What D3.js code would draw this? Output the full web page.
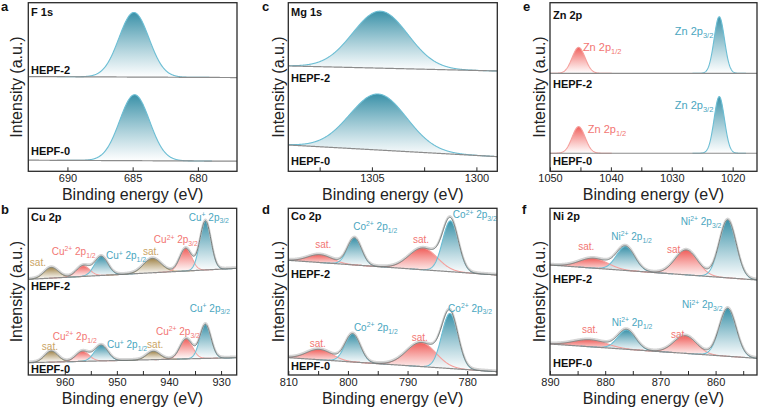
<!DOCTYPE html>
<html><head><meta charset="utf-8">
<script src="https://cdn.jsdelivr.net/npm/d3@7/dist/d3.min.js"></script>
<style>
body{margin:0;background:#fff}
svg{display:block}
text{font-family:Arial,"Liberation Sans",Helvetica,sans-serif}
</style></head>
<body><svg id="chart" width="760" height="409"></svg>
<script>
// ================= DATA (binding energy in eV, intensity in a.u. 0-100 per panel) =================
// a: F 1s
const f1sDomain = [693, 677];
const f1sTicks = [690, 685, 680];
const f1sMinor = [];
const f1sBaseline = [{sample:"HEPF-2", left:56.2, right:55.6}, {sample:"HEPF-0", left:6.6, right:6.0}];
const f1sPeaks = [
  {sample:"HEPF-2", species:"F", center:684.9, height:38.3, fwhm:2.7},
  {sample:"HEPF-0", species:"F", center:684.85, height:39.1, fwhm:2.7}];
const f1sLabels = [];

// c: Mg 1s
const mg1sDomain = [1309, 1299];
const mg1sTicks = [1305, 1300];
const mg1sMinor = [1307.5, 1302.5];
const mg1sBaseline = [{sample:"HEPF-2", left:62.5, right:59.5}, {sample:"HEPF-0", left:15.6, right:8.7}];
const mg1sPeaks = [
  {sample:"HEPF-2", species:"Mg", center:1304.6, height:33.8, fwhm:3.1},
  {sample:"HEPF-0", species:"Mg", center:1304.7, height:33.2, fwhm:3.2}];
const mg1sLabels = [];

// e: Zn 2p
const zn2pDomain = [1050, 1016];
const zn2pTicks = [1050, 1040, 1030, 1020];
const zn2pMinor = [1045, 1035, 1025];
const zn2pBaseline = [{sample:"HEPF-2", left:58.1, right:58.1}, {sample:"HEPF-0", left:10.7, right:10.7}];
const zn2pPeaks = [
  {sample:"HEPF-2", species:"Zn 2p1/2", center:1045.3, height:15.4, fwhm:2.5},
  {sample:"HEPF-2", species:"Zn 2p3/2", center:1022.2, height:33.6, fwhm:2.0},
  {sample:"HEPF-0", species:"Zn 2p1/2", center:1045.3, height:15.8, fwhm:2.5},
  {sample:"HEPF-0", species:"Zn 2p3/2", center:1022.2, height:33.6, fwhm:2.0}];
const zn2pLabels = [
  {species:"Zn 2p3/2", text:"Zn 2p_{3/2}", be:1029.5, y:80.8},
  {species:"Zn 2p1/2", text:"Zn 2p_{1/2}", be:1044.6, y:71.4},
  {species:"Zn 2p3/2", text:"Zn 2p_{3/2}", be:1029.5, y:37.0},
  {species:"Zn 2p1/2", text:"Zn 2p_{1/2}", be:1043.8, y:22.7}];

// b: Cu 2p
const cu2pDomain = [967, 927];
const cu2pTicks = [960, 950, 940, 930];
const cu2pMinor = [955, 945, 935];
const cu2pBaseline = [{sample:"HEPF-2", left:57.4, right:64.0}, {sample:"HEPF-0", left:7.4, right:10.4}];
const cu2pPeaks = [
  {sample:"HEPF-2", species:"Cu sat.", center:962.6, height:6.4, fwhm:3.2},
  {sample:"HEPF-2", species:"Cu2+", center:956.5, height:6.4, fwhm:3.0},
  {sample:"HEPF-2", species:"Cu+", center:953.0, height:11.4, fwhm:3.0},
  {sample:"HEPF-2", species:"Cu sat.", center:943.2, height:8.6, fwhm:4.0},
  {sample:"HEPF-2", species:"Cu2+", center:936.8, height:13.6, fwhm:2.7},
  {sample:"HEPF-2", species:"Cu+", center:933.0, height:29.4, fwhm:2.5},
  {sample:"HEPF-0", species:"Cu sat.", center:962.6, height:6.6, fwhm:3.0},
  {sample:"HEPF-0", species:"Cu2+", center:956.6, height:6.0, fwhm:3.0},
  {sample:"HEPF-0", species:"Cu+", center:953.0, height:9.4, fwhm:3.0},
  {sample:"HEPF-0", species:"Cu sat.", center:943.0, height:5.0, fwhm:3.0},
  {sample:"HEPF-0", species:"Cu2+", center:936.7, height:12.0, fwhm:2.8},
  {sample:"HEPF-0", species:"Cu+", center:933.0, height:20.4, fwhm:2.5}];
const cu2pLabels = [
  {species:"Cu sat.", text:"sat.", be:966.7, y:65.3},
  {species:"Cu2+", text:"Cu^{2+} 2p_{1/2}", be:962.5, y:71.9},
  {species:"Cu+", text:"Cu^{+} 2p_{1/2}", be:952.1, y:69.3},
  {species:"Cu sat.", text:"sat.", be:945.0, y:71.9},
  {species:"Cu2+", text:"Cu^{2+} 2p_{3/2}", be:942.9, y:78.9},
  {species:"Cu+", text:"Cu^{+} 2p_{3/2}", be:936.2, y:92.5},
  {species:"Cu sat.", text:"sat.", be:964.4, y:14.9},
  {species:"Cu2+", text:"Cu^{2+} 2p_{1/2}", be:962.3, y:20.9},
  {species:"Cu+", text:"Cu^{+} 2p_{1/2}", be:951.9, y:15.9},
  {species:"Cu sat.", text:"sat.", be:944.2, y:15.9},
  {species:"Cu2+", text:"Cu^{2+} 2p_{3/2}", be:942.5, y:23.9},
  {species:"Cu+", text:"Cu^{+} 2p_{3/2}", be:936.0, y:37.9}];

// d: Co 2p
const co2pDomain = [810, 775];
const co2pTicks = [810, 800, 790, 780];
const co2pMinor = [805, 795, 785];
const co2pBaseline = [{sample:"HEPF-2", left:68.8, right:60.0}, {sample:"HEPF-0", left:10.4, right:2.0}];
const co2pPeaks = [
  {sample:"HEPF-2", species:"Co sat.", center:804.7, height:4.7, fwhm:4.8},
  {sample:"HEPF-2", species:"Co2+", center:798.9, height:16.2, fwhm:2.8},
  {sample:"HEPF-2", species:"Co sat.", center:787.4, height:13.0, fwhm:5.6},
  {sample:"HEPF-2", species:"Co2+", center:782.8, height:30.5, fwhm:3.1},
  {sample:"HEPF-0", species:"Co sat.", center:804.8, height:6.2, fwhm:5.0},
  {sample:"HEPF-0", species:"Co2+", center:799.2, height:16.8, fwhm:3.0},
  {sample:"HEPF-0", species:"Co sat.", center:787.7, height:14.4, fwhm:5.8},
  {sample:"HEPF-0", species:"Co2+", center:782.9, height:33.0, fwhm:3.2}];
const co2pLabels = [
  {species:"Co sat.", text:"sat.", be:805.5, y:75.9},
  {species:"Co2+", text:"Co^{2+} 2p_{1/2}", be:799.1, y:86.9},
  {species:"Co sat.", text:"sat.", be:789.1, y:79.3},
  {species:"Co2+", text:"Co^{2+} 2p_{3/2}", be:782.4, y:93.9},
  {species:"Co sat.", text:"sat.", be:806.4, y:16.5},
  {species:"Co2+", text:"Co^{2+} 2p_{1/2}", be:799.0, y:26.3},
  {species:"Co sat.", text:"sat.", be:789.3, y:20.5},
  {species:"Co2+", text:"Co^{2+} 2p_{3/2}", be:783.2, y:37.9}];

// f: Ni 2p
const ni2pDomain = [890, 852.5];
const ni2pTicks = [890, 880, 870, 860];
const ni2pMinor = [885, 875, 865, 855];
const ni2pBaseline = [{sample:"HEPF-2", left:66.0, right:57.0}, {sample:"HEPF-0", left:18.6, right:10.0}];
const ni2pPeaks = [
  {sample:"HEPF-2", species:"Ni sat.", center:882.1, height:5.9, fwhm:6.0},
  {sample:"HEPF-2", species:"Ni2+", center:876.3, height:14.3, fwhm:3.9},
  {sample:"HEPF-2", species:"Ni sat.", center:865.3, height:14.9, fwhm:4.8},
  {sample:"HEPF-2", species:"Ni2+", center:857.8, height:34.8, fwhm:3.6},
  {sample:"HEPF-0", species:"Ni sat.", center:882.7, height:4.2, fwhm:7.0},
  {sample:"HEPF-0", species:"Ni2+", center:876.1, height:11.6, fwhm:3.8},
  {sample:"HEPF-0", species:"Ni sat.", center:865.5, height:10.6, fwhm:4.8},
  {sample:"HEPF-0", species:"Ni2+", center:857.8, height:28.8, fwhm:3.6}];
const ni2pLabels = [
  {species:"Ni sat.", text:"sat.", be:884.9, y:74.9},
  {species:"Ni2+", text:"Ni^{2+} 2p_{1/2}", be:878.9, y:80.9},
  {species:"Ni sat.", text:"sat.", be:868.8, y:72.9},
  {species:"Ni2+", text:"Ni^{2+} 2p_{3/2}", be:866.3, y:89.9},
  {species:"Ni sat.", text:"sat.", be:884.2, y:25.3},
  {species:"Ni2+", text:"Ni^{2+} 2p_{1/2}", be:878.8, y:29.3},
  {species:"Ni sat.", text:"sat.", be:868.1, y:21.9},
  {species:"Ni2+", text:"Ni^{2+} 2p_{3/2}", be:866.1, y:39.9}];

const samples = ["HEPF-2", "HEPF-0"];
const speciesList = ["F","Mg","Zn 2p3/2","Zn 2p1/2","Cu+","Cu2+","Cu sat.","Co2+","Co sat.","Ni2+","Ni sat."];
const speciesHue = ["teal","teal","teal","pink","teal","pink","brown","teal","pink","teal","pink"];

// ================= STYLE / LAYOUT =================
const hues = {
  teal:{top:"#3a91a8", line:"#6cbed4", text:"#4aa6c0"},
  pink:{top:"#f05e5a", line:"#f5a09d", text:"#f27673"},
  brown:{top:"#a08449", line:"#c6b080", text:"#caa465"}
};
const hueOf = d3.scaleOrdinal().domain(speciesList).range(speciesHue);

const panels = [
  {letter:"a", core:"F 1s", domain:f1sDomain, ticks:f1sTicks, minor:f1sMinor, base:f1sBaseline, peaks:f1sPeaks, labels:f1sLabels,
   x0:28.3, x1:237, y0:2.7, y1:171.3, env:false, letterPos:[1,11], corePos:[31,16], s2:[31,73.5], s0:[31,155], yt:16, lfs:11},
  {letter:"c", core:"Mg 1s", domain:mg1sDomain, ticks:mg1sTicks, minor:mg1sMinor, base:mg1sBaseline, peaks:mg1sPeaks, labels:mg1sLabels,
   x0:288.3, x1:497.3, y0:2.7, y1:171.3, env:false, letterPos:[262,11], corePos:[291,16], s2:[291,82], s0:[291,165], yt:277.5, lfs:11},
  {letter:"e", core:"Zn 2p", domain:zn2pDomain, ticks:zn2pTicks, minor:zn2pMinor, base:zn2pBaseline, peaks:zn2pPeaks, labels:zn2pLabels,
   x0:550, x1:757, y0:2.7, y1:171.3, env:false, letterPos:[523,11], corePos:[553,19], s2:[553,87.5], s0:[553,165], yt:539, lfs:11},
  {letter:"b", core:"Cu 2p", domain:cu2pDomain, ticks:cu2pTicks, minor:cu2pMinor, base:cu2pBaseline, peaks:cu2pPeaks, labels:cu2pLabels,
   x0:28.3, x1:236.7, y0:208.3, y1:375, env:true, letterPos:[1,214], corePos:[31,221], s2:[31,290], s0:[31,373], yt:16, lfs:10},
  {letter:"d", core:"Co 2p", domain:co2pDomain, ticks:co2pTicks, minor:co2pMinor, base:co2pBaseline, peaks:co2pPeaks, labels:co2pLabels,
   x0:288.3, x1:497, y0:208.3, y1:375, env:true, letterPos:[262,214], corePos:[291,219.5], s2:[291,277.5], s0:[291,370], yt:277.5, lfs:10},
  {letter:"f", core:"Ni 2p", domain:ni2pDomain, ticks:ni2pTicks, minor:ni2pMinor, base:ni2pBaseline, peaks:ni2pPeaks, labels:ni2pLabels,
   x0:550, x1:757, y0:208.3, y1:375, env:true, letterPos:[522,214], corePos:[553,219.5], s2:[553,283], s0:[553,367], yt:539, lfs:10}
];

const svg = d3.select("#chart");
const defs = svg.append("defs");
Object.entries(hues).forEach(([k, h]) => {
  const g = defs.append("linearGradient").attr("id", "grad-" + k)
    .attr("x1", 0).attr("y1", 0).attr("x2", 0).attr("y2", 1);
  g.append("stop").attr("offset", "0%").attr("stop-color", h.top).attr("stop-opacity", 1);
  g.append("stop").attr("offset", "100%").attr("stop-color", "#ffffff").attr("stop-opacity", 0.85);
});

const gauss = (p, x) => p.height * Math.exp(-4 * Math.LN2 * (x - p.center) * (x - p.center) / (p.fwhm * p.fwhm));

function richText(sel, str, fs) {
  const re = /(\^\{[^}]*\}|_\{[^}]*\})/g;
  const parts = str.split(re).filter(s => s.length);
  let shift = 0;
  parts.forEach(s => {
    if (s.startsWith("^{")) {
      sel.append("tspan").attr("dy", -0.38 * fs - shift).attr("font-size", fs * 0.68).text(s.slice(2, -1));
      shift = -0.38 * fs;
    } else if (s.startsWith("_{")) {
      sel.append("tspan").attr("dy", 0.25 * fs - shift).attr("font-size", fs * 0.68).text(s.slice(2, -1));
      shift = 0.25 * fs;
    } else {
      sel.append("tspan").attr("dy", -shift).text(s);
      shift = 0;
    }
  });
}

panels.forEach(P => {
  const x = d3.scaleLinear().domain(P.domain).range([P.x0, P.x1]);
  const y = d3.scaleLinear().domain([0, 100]).range([P.y1, P.y0]);
  const g = svg.append("g");
  const clipId = "clip-" + P.letter;
  defs.append("clipPath").attr("id", clipId).append("rect")
    .attr("x", P.x0).attr("y", P.y0).attr("width", P.x1 - P.x0).attr("height", P.y1 - P.y0);
  const plot = g.append("g").attr("clip-path", `url(#${clipId})`);

  const xs = d3.range(0, 601).map(i => P.domain[0] + (P.domain[1] - P.domain[0]) * i / 600);

  samples.forEach(s => {
    const b = P.base.find(d => d.sample === s);
    const baseAt = xv => b.left + (b.right - b.left) * (xv - P.domain[0]) / (P.domain[1] - P.domain[0]);
    const peaks = P.peaks.filter(p => p.sample === s);
    peaks.forEach(p => {
      const pts = xs.filter(v => Math.abs(v - p.center) < 1.9 * p.fwhm);
      const area = d3.area().x(v => x(v)).y0(v => y(baseAt(v))).y1(v => y(baseAt(v) + gauss(p, v)));
      plot.append("path").datum(pts).attr("d", area)
        .attr("fill", `url(#grad-${hueOf(p.species)})`).attr("stroke", "none");
    });
    peaks.forEach(p => {
      const pts = xs.filter(v => Math.abs(v - p.center) < 2.2 * p.fwhm);
      const line = d3.line().x(v => x(v)).y(v => y(baseAt(v) + gauss(p, v)));
      plot.append("path").datum(pts).attr("d", line)
        .attr("fill", "none").attr("stroke", hues[hueOf(p.species)].line).attr("stroke-width", 1.1);
    });
    plot.append("path").datum(xs).attr("d", d3.line().x(v => x(v)).y(v => y(baseAt(v))))
      .attr("fill", "none").attr("stroke", "#8c8c8c").attr("stroke-width", 1.2);
    if (P.env) {
      const env = d3.line().x(v => x(v)).y(v => y(baseAt(v) + d3.sum(peaks, p => gauss(p, v))));
      plot.append("path").datum(xs).attr("d", env)
        .attr("fill", "none").attr("stroke", "#d6d6d6").attr("stroke-width", 2)
        .attr("transform", "translate(0,-1.2)");
      plot.append("path").datum(xs).attr("d", env)
        .attr("fill", "none").attr("stroke", "#66706f").attr("stroke-width", 0.9);
    }
  });

  P.labels.forEach(l => {
    const t = g.append("text").attr("x", x(l.be)).attr("y", y(l.y))
      .attr("font-size", P.lfs).attr("fill", hues[hueOf(l.species)].text);
    richText(t, l.text, P.lfs);
  });

  g.append("rect").attr("x", P.x0).attr("y", P.y0).attr("width", P.x1 - P.x0).attr("height", P.y1 - P.y0)
    .attr("fill", "none").attr("stroke", "#2a2a2a").attr("stroke-width", 1.3);

  const lo = Math.min(...P.domain), hi = Math.max(...P.domain);
  const ax = d3.axisBottom(x).tickValues(P.ticks.concat(P.minor).filter(t => t >= lo && t <= hi))
    .tickSizeInner(-4).tickSizeOuter(0).tickPadding(3)
    .tickFormat(t => P.ticks.includes(t) ? d3.format("d")(t) : "");
  const axg = g.append("g").attr("transform", `translate(0,${P.y1})`).call(ax);
  axg.select(".domain").remove();
  axg.selectAll(".tick line").attr("stroke", "#2a2a2a").attr("stroke-width", 1);
  axg.selectAll(".tick text").attr("font-size", 11).attr("fill", "#222")
    .attr("font-family", "Arial, 'Liberation Sans', sans-serif");

  g.append("text").attr("x", (P.x0 + P.x1) / 2).attr("y", P.y1 + 28.5).attr("text-anchor", "middle")
    .attr("font-size", 16).attr("fill", "#222").text("Binding energy (eV)");
  g.append("text").attr("transform", `translate(${P.yt + 6},${(P.y0 + P.y1) / 2}) rotate(-90)`)
    .attr("text-anchor", "middle").attr("font-size", 16).attr("fill", "#222").text("Intensity (a.u.)");

  g.append("text").attr("x", P.letterPos[0]).attr("y", P.letterPos[1]).attr("font-size", 13)
    .attr("font-weight", "bold").attr("fill", "#111").text(P.letter);
  g.append("text").attr("x", P.corePos[0]).attr("y", P.corePos[1]).attr("font-size", 11)
    .attr("font-weight", "bold").attr("fill", "#111").text(P.core);
  g.append("text").attr("x", P.s2[0]).attr("y", P.s2[1]).attr("font-size", 11)
    .attr("font-weight", "bold").attr("fill", "#111").text(samples[0]);
  g.append("text").attr("x", P.s0[0]).attr("y", P.s0[1]).attr("font-size", 11)
    .attr("font-weight", "bold").attr("fill", "#111").text(samples[1]);
});
</script>
</body></html>
